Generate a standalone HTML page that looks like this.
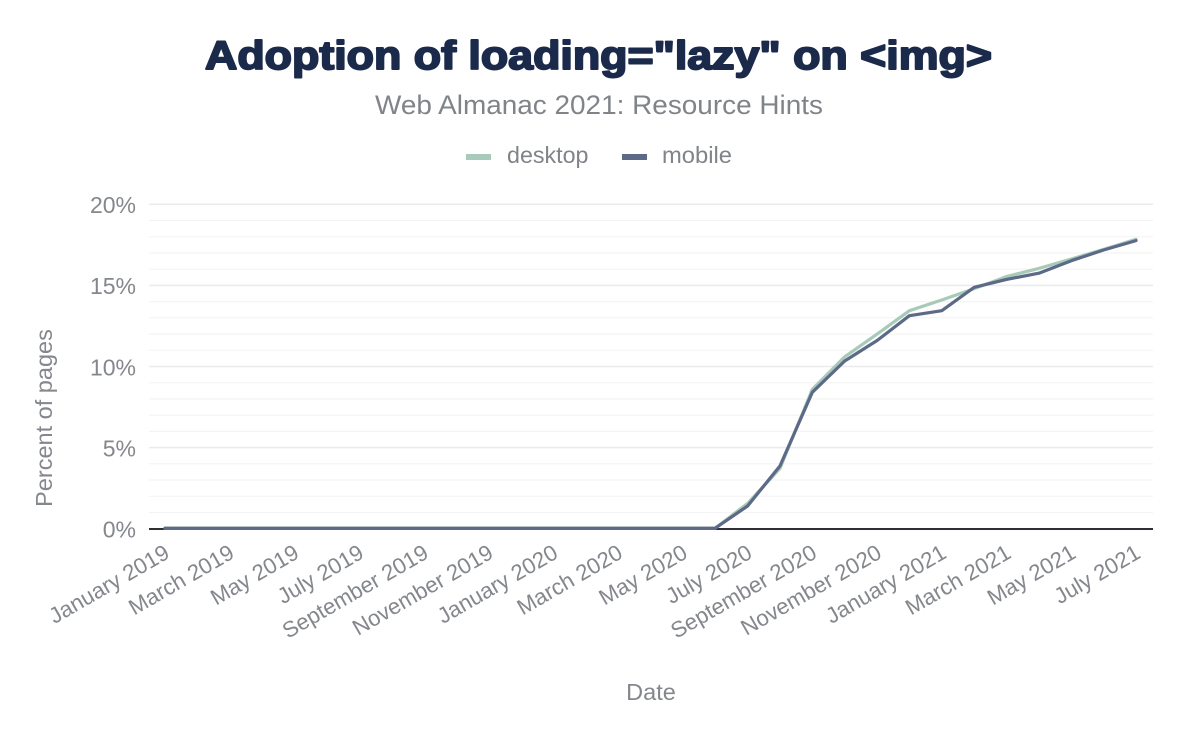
<!DOCTYPE html>
<html>
<head>
<meta charset="utf-8">
<style>
  html,body{margin:0;padding:0;background:#fff;}
  svg{display:block;}
  text{font-family:"Liberation Sans", Arial, sans-serif;}
</style>
</head>
<body>
<svg width="1200" height="742" viewBox="0 0 1200 742" xmlns="http://www.w3.org/2000/svg">
  <rect x="0" y="0" width="1200" height="742" fill="#ffffff"/>

  <!-- Title -->
  <text x="205" y="69" font-size="40" font-weight="bold" fill="#1b2a4a" stroke="#1b2a4a" stroke-width="1.9" stroke-linejoin="round" textLength="787" lengthAdjust="spacingAndGlyphs">Adoption of loading="lazy" on &lt;img&gt;</text>
  <!-- Subtitle -->
  <text x="375" y="114" font-size="27" fill="#808489" textLength="448" lengthAdjust="spacingAndGlyphs">Web Almanac 2021: Resource Hints</text>

  <!-- Legend -->
  <rect x="466" y="154" width="25" height="6" fill="#a8cab9"/>
  <text x="507" y="163" font-size="23" fill="#808489" textLength="81.5" lengthAdjust="spacingAndGlyphs">desktop</text>
  <rect x="622" y="154" width="25" height="6" fill="#5c6a88"/>
  <text x="662" y="163" font-size="23" fill="#808489" textLength="70" lengthAdjust="spacingAndGlyphs">mobile</text>

  <!-- Minor gridlines -->
  <g stroke="#f4f4f4" stroke-width="1.2">
    <line x1="149" x2="1153" y1="512.5" y2="512.5"/>
    <line x1="149" x2="1153" y1="496.3" y2="496.3"/>
    <line x1="149" x2="1153" y1="480.0" y2="480.0"/>
    <line x1="149" x2="1153" y1="463.8" y2="463.8"/>
    <line x1="149" x2="1153" y1="431.4" y2="431.4"/>
    <line x1="149" x2="1153" y1="415.2" y2="415.2"/>
    <line x1="149" x2="1153" y1="399.0" y2="399.0"/>
    <line x1="149" x2="1153" y1="382.7" y2="382.7"/>
    <line x1="149" x2="1153" y1="350.3" y2="350.3"/>
    <line x1="149" x2="1153" y1="334.1" y2="334.1"/>
    <line x1="149" x2="1153" y1="317.8" y2="317.8"/>
    <line x1="149" x2="1153" y1="301.6" y2="301.6"/>
    <line x1="149" x2="1153" y1="269.2" y2="269.2"/>
    <line x1="149" x2="1153" y1="253.0" y2="253.0"/>
    <line x1="149" x2="1153" y1="236.7" y2="236.7"/>
    <line x1="149" x2="1153" y1="220.5" y2="220.5"/>
  </g>
  <!-- Major gridlines -->
  <g stroke="#ebebeb" stroke-width="1.5">
    <line x1="149" x2="1153" y1="447.6" y2="447.6"/>
    <line x1="149" x2="1153" y1="366.5" y2="366.5"/>
    <line x1="149" x2="1153" y1="285.4" y2="285.4"/>
    <line x1="149" x2="1153" y1="204.3" y2="204.3"/>
  </g>

  <!-- Y tick labels -->
  <g font-size="23" fill="#84878c" text-anchor="end">
    <text x="136" y="537.5">0%</text>
    <text x="136" y="456.4">5%</text>
    <text x="136" y="375.3">10%</text>
    <text x="136" y="294.2">15%</text>
    <text x="136" y="213.1">20%</text>
  </g>

  <!-- Y axis title -->
  <text transform="translate(52,418) rotate(-90)" text-anchor="middle" font-size="23.5" fill="#84878c">Percent of pages</text>

  <!-- Axis line -->
  <line x1="149" x2="1153" y1="529" y2="529" stroke="#2f3035" stroke-width="2"/>

  <!-- Desktop series -->
  <polyline fill="none" stroke="#a8cab9" stroke-width="3.2" stroke-linejoin="round" stroke-linecap="round"
    points="165,528.2 715.2,528.2 747.6,503.4 780.0,468.4 812.3,389.4 844.7,356.8 877.1,334.1 909.4,310.7 941.8,300.0 974.2,288.6 1006.5,276.6 1038.9,268.4 1071.3,259.0 1103.6,249.4 1136,239.3"/>
  <!-- Mobile series -->
  <polyline fill="none" stroke="#5c6a88" stroke-width="3.2" stroke-linejoin="round" stroke-linecap="round"
    points="165,528.2 715.2,528.2 747.6,506.0 780.0,465.9 812.3,392.3 844.7,361.0 877.1,340.5 909.4,315.7 941.8,310.7 974.2,287.3 1006.5,279.4 1038.9,273.2 1071.3,260.7 1103.6,250.0 1136,240.6"/>

  <!-- X tick labels -->
  <g font-size="22.2" fill="#84878c" text-anchor="end">
    <text transform="translate(171,557) rotate(-30)">January 2019</text>
    <text transform="translate(235.7,557) rotate(-30)">March 2019</text>
    <text transform="translate(300.5,557) rotate(-30)">May 2019</text>
    <text transform="translate(365.2,557) rotate(-30)">July 2019</text>
    <text transform="translate(429.9,557) rotate(-30)">September 2019</text>
    <text transform="translate(494.7,557) rotate(-30)">November 2019</text>
    <text transform="translate(559.4,557) rotate(-30)">January 2020</text>
    <text transform="translate(624.1,557) rotate(-30)">March 2020</text>
    <text transform="translate(688.9,557) rotate(-30)">May 2020</text>
    <text transform="translate(753.6,557) rotate(-30)">July 2020</text>
    <text transform="translate(818.3,557) rotate(-30)">September 2020</text>
    <text transform="translate(883.1,557) rotate(-30)">November 2020</text>
    <text transform="translate(947.8,557) rotate(-30)">January 2021</text>
    <text transform="translate(1012.5,557) rotate(-30)">March 2021</text>
    <text transform="translate(1077.3,557) rotate(-30)">May 2021</text>
    <text transform="translate(1142,557) rotate(-30)">July 2021</text>
  </g>

  <!-- X axis title -->
  <text x="651" y="700" text-anchor="middle" font-size="23.5" fill="#84878c">Date</text>
</svg>
</body>
</html>
